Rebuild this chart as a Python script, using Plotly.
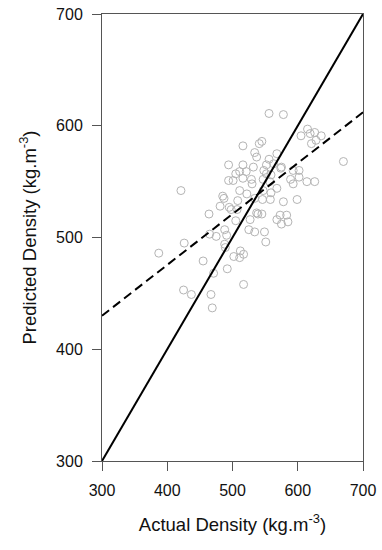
import plotly.graph_objects as go

# Observed (actual) vs predicted density, kg.m-3
actual = [516, 534, 541, 545, 537, 494, 516, 532, 505, 511, 521, 494, 501, 516, 529,
          530, 421, 511, 522, 485, 487, 508, 534, 481, 495, 498, 464, 537, 556, 578,
          615, 626, 619, 636, 605, 628, 621, 568, 556, 670, 563, 552, 548, 552, 575,
          574, 593, 602, 559, 547, 557, 589, 602, 593, 614, 626, 547, 568, 559, 546,
          558, 578, 599, 507, 539, 545, 573, 583, 505, 527, 488, 525, 534, 465, 475,
          491, 426, 488, 489, 387, 512, 517, 502, 511, 455, 492, 471, 517, 425, 437,
          467, 469, 568, 585, 575, 549, 551]
predicted = [582, 576, 584, 586, 572, 565, 565, 563, 557, 559, 559, 551, 551, 553, 552,
             548, 542, 542, 539, 537, 535, 533, 535, 528, 527, 525, 521, 522, 611, 610,
             597, 594, 593, 591, 591, 587, 584, 575, 570, 568, 566, 565, 560, 557, 563,
             562, 560, 560, 556, 552, 550, 552, 554, 548, 550, 550, 542, 544, 540, 534,
             534, 532, 534, 525, 521, 521, 520, 520, 515, 516, 507, 507, 505, 503, 501,
             502, 495, 494, 491, 486, 488, 485, 483, 482, 479, 472, 468, 458, 453, 449,
             449, 437, 516, 514, 512, 505, 496]

one_to_one_x = [300, 700]
one_to_one_y = [300, 700]
fit_x = [300, 700]
fit_y = [430, 612]

tick_vals = [300, 400, 500, 600, 700]

fig = go.Figure()
fig.add_trace(go.Scatter(
    x=actual, y=predicted, mode="markers",
    marker=dict(symbol="circle-open", size=8, color="#b4b4b4", line=dict(width=1, color="#b4b4b4")),
    showlegend=False, hoverinfo="x+y"))
fig.add_trace(go.Scatter(
    x=one_to_one_x, y=one_to_one_y, mode="lines",
    line=dict(color="black", width=2), showlegend=False))
fig.add_trace(go.Scatter(
    x=fit_x, y=fit_y, mode="lines",
    line=dict(color="black", width=2, dash="9px,5px"), showlegend=False))

font_family = "Liberation Sans, Arial, sans-serif"
axis_common = dict(
    range=[300, 700], tickvals=tick_vals, ticks="outside", ticklen=9, tickwidth=1,
    tickcolor="#555555", showline=True, linecolor="#555555", linewidth=1, mirror=True,
    showgrid=False, zeroline=False, automargin=False,
    tickfont=dict(family=font_family, size=16, color="#111111"),
)

fig.update_layout(
    width=382, height=550,
    margin=dict(l=102, r=19, t=14, b=89),
    paper_bgcolor="white", plot_bgcolor="white",
    xaxis=dict(**axis_common, ticklabelstandoff=6,
               title=dict(text="Actual Density (kg.m<sup>-3</sup>)", standoff=19,
                          font=dict(family=font_family, size=18.5, color="#111111"))),
    yaxis=dict(**axis_common, ticklabelstandoff=6,
               title=dict(text="Predicted Density (kg.m<sup>-3</sup>)", standoff=14,
                          font=dict(family=font_family, size=18.5, color="#111111"))),
)

fig.write_html("out.html", config={"displayModeBar": False},
               post_script="document.body.style.margin='0px';")
